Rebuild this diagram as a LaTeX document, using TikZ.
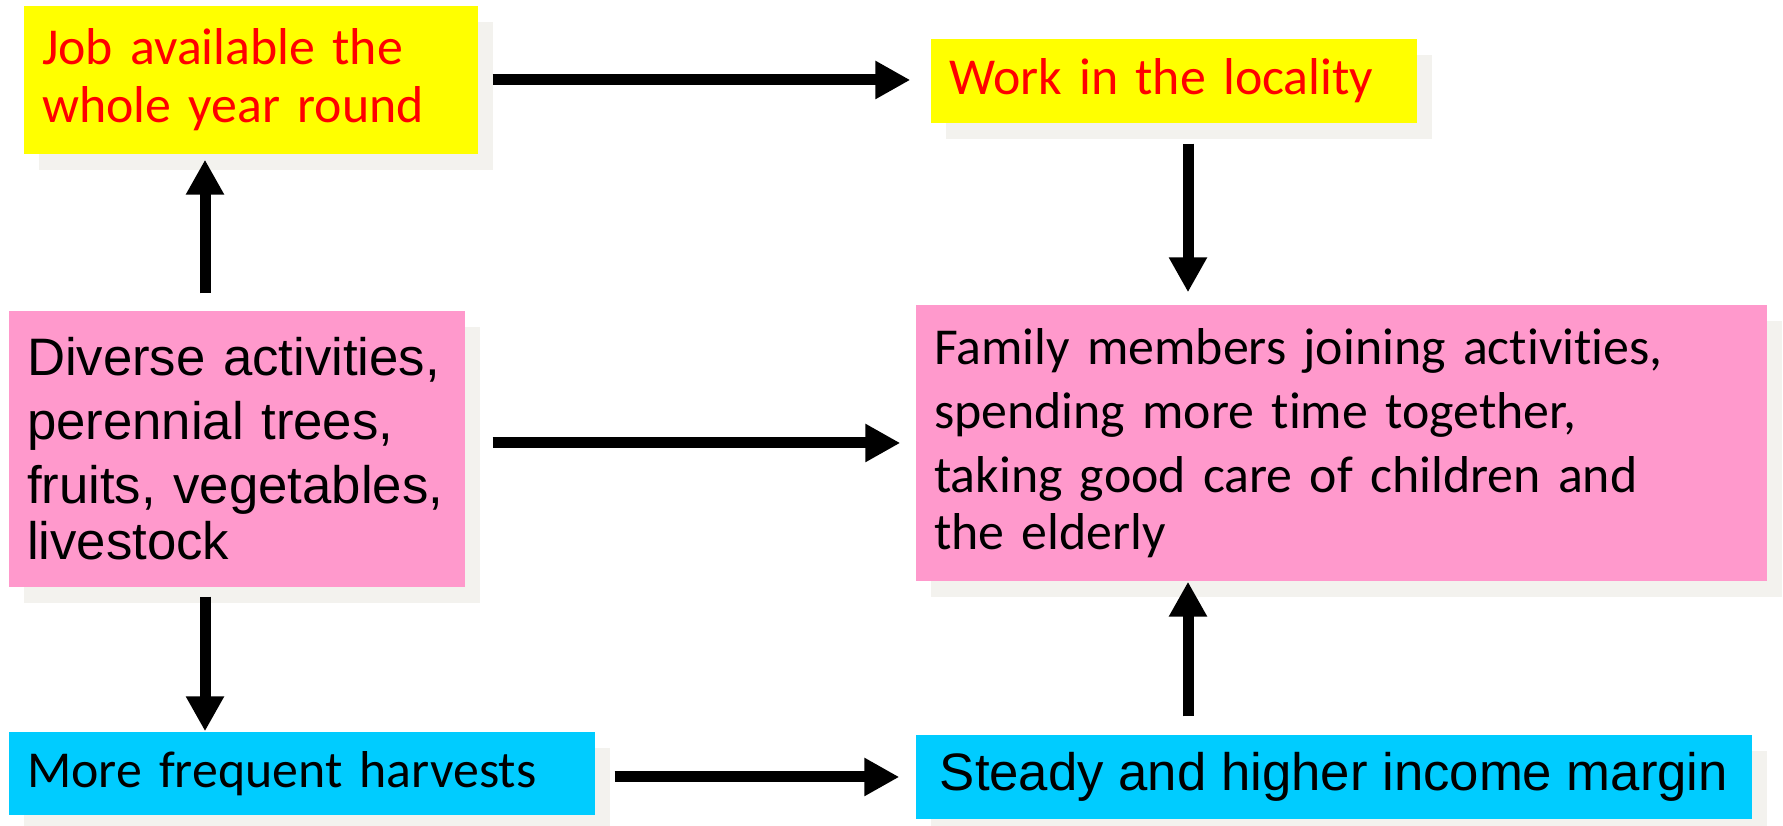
\documentclass[tikz,border=0pt]{standalone}
\usepackage{fontspec}
\setmainfont{Carlito}[Ligatures=NoCommon]
\setsansfont{Liberation Sans}
\usepackage{xcolor}
\usepackage{tikz}
\usetikzlibrary{arrows.meta}
\usetikzlibrary{shadows}

\definecolor{boxyellow}{RGB}{255,255,0}
\definecolor{boxpink}{RGB}{255,153,204}
\definecolor{boxcyan}{RGB}{0,204,255}
\definecolor{shadowgrey}{RGB}{243,242,238}

\begin{document}
\begin{tikzpicture}[box/.style={rectangle,inner xsep=0.18cm,inner ysep=0.05cm,align=left,drop shadow={fill=shadowgrey,opacity=1,shadow xshift=0.15cm,shadow yshift=-0.16cm}},
    yellow box/.style={box,fill=boxyellow,text=red,font=\fontsize{14.75}{16.5}\selectfont},
    pink box/.style={box,fill=boxpink,font=\fontsize{14.75}{18.2}\selectfont},
    cyan box/.style={box,fill=boxcyan,font=\fontsize{14.75}{18}\selectfont},
    fat arrow/.style={line width=0.11cm,-{Triangle[length=0.35cm,width=0.36cm]}}]
\useasboundingbox (0,0) rectangle (17.83,8.26);
\coordinate (lx) at (2.05,0); %left arrows
\coordinate (rx) at (11.88,0); %right arrows
\node (job) at (2.51,7.46)[yellow box,text width=4.18cm,minimum height=1.48cm]{Job available the\\whole year round};
\node (work) at (11.74,7.45)[yellow box,text width=4.50cm,minimum height=0.84cm]{Work in the locality};
\node (diverse) at (2.37,3.77)[pink box,text width=4.20cm,minimum height=2.76cm,font=\sffamily\fontsize{15}{18.2}\selectfont]{Diverse activities,\\perennial trees,\\fruits, vegetables,\\[-2.2pt]livestock};
\node (family) at (13.415,3.83)[pink box,text width=8.15cm,minimum height=2.76cm]{Family members joining activities,\\spending more time together,\\taking good care of children and\\[-2pt]the elderly};
\node (harvest) at (3.02,0.525)[cyan box,text width=5.50cm,minimum height=0.83cm]{More frequent harvests};
\node (income) at (13.34,0.49)[cyan box,minimum width=8.36cm,minimum height=0.84cm,font=\sffamily\fontsize{15}{18}\selectfont]{Steady and higher income margin};
% connectors
\draw[fat arrow,shorten <=0.17cm,shorten >=0.05cm] (diverse.north -| lx) -- (job.south -| lx);
\draw[fat arrow,shorten <=0.14cm,shorten >=0.2cm] (job.east) -- (job.east -| work.west);
\draw[fat arrow,shorten <=0.2cm,shorten >=0.12cm] (work.south -| rx) -- (family.north -| rx);
\draw[fat arrow,shorten <=0.27cm,shorten >=0.15cm] (diverse.east |- family.west) -- (family.west);
\draw[fat arrow,shorten <=0.09cm] (diverse.south -| lx) -- (harvest.north -| lx);
\draw[fat arrow,shorten <=0.19cm,shorten >=0.16cm] (harvest.east |- income.west) -- (income.west);
\draw[fat arrow,shorten <=0.18cm] (income.north -| rx) -- (family.south -| rx);
\end{tikzpicture}
\end{document}
